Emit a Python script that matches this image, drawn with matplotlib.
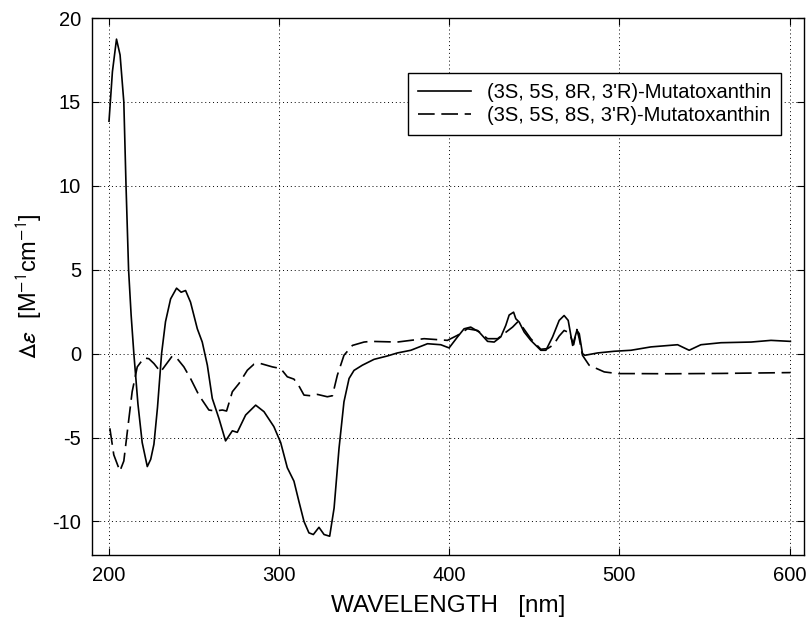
import numpy as np
import matplotlib.pyplot as plt

plt.rcParams['font.family'] = ['Liberation Sans', 'DejaVu Sans']
plt.rcParams['mathtext.fontset'] = 'stixsans'
plt.rcParams['axes.unicode_minus'] = False

# (3S,5S,8R,3'R) - solid curve
wl_r = [200, 202, 204.4, 206.5, 208.7, 210, 211.5, 213, 214.6, 217, 219.5, 222.5, 224.5,
        226.4, 228.5, 230.9, 233.2, 236.2, 239.7, 242.4, 245, 247.9, 251.9, 254.8, 257.8,
        260.7, 264.6, 268.5, 272.5, 275.4, 280.3, 286.2, 291.1, 296.9, 300.9, 304.8, 308.7,
        311.6, 314.6, 317.5, 320.1, 323.4, 326.4, 329.7, 332.3, 335.2, 338.1, 341.1, 344,
        348.9, 355.8, 363.6, 369.5, 377.4, 387.2, 395, 399.9, 404.8, 408.7, 412.6, 417.5,
        422.5, 426.4, 430.3, 433.2, 435.2, 437.8, 439.1, 441.1, 444, 447.9, 453.8, 456.8,
        460.7, 464.6, 467.5, 469.9, 472.5, 475, 476.4, 478.3, 479.7, 487.2, 496.9, 506.8,
        518.5, 534.2, 541, 547.9, 559.7, 577.4, 589.1, 600.5]
de_r = [13.85, 16.8, 18.74, 17.8, 15.0, 10.0, 5.0, 2.3, 0.0, -3.0, -5.3, -6.73, -6.3,
        -5.4, -3.2, 0.0, 1.9, 3.26, 3.9, 3.66, 3.76, 3.07, 1.48, 0.69, -0.69,
        -2.67, -3.86, -5.2, -4.6, -4.69, -3.66, -3.07, -3.46, -4.35, -5.3, -6.8, -7.6,
        -8.8, -10.0, -10.68, -10.78, -10.35, -10.78, -10.88, -9.2, -5.64, -2.87, -1.48, -1.0,
        -0.69, -0.34, -0.14, 0.04, 0.2, 0.59, 0.53, 0.34, 0.99, 1.48, 1.58, 1.29,
        0.73, 0.69, 1.0, 1.68, 2.3, 2.47, 2.08, 1.88, 1.29, 0.79, 0.2, 0.2,
        0.99, 1.98, 2.27, 1.98, 0.49, 1.38, 1.19, 0.0, -0.1, 0.04, 0.14, 0.2,
        0.4, 0.53, 0.2, 0.53, 0.65, 0.69, 0.79, 0.73]

# (3S,5S,8S,3'R) - dashed curve
wl_s = [200.5, 202.8, 206.4, 208.7, 211, 213.6, 216.6, 220.5, 223.4, 226.4, 230.3, 233.2,
        237.2, 240.1, 244, 247.9, 252.8, 258.7, 262.6, 266.6, 269.1, 272.5, 276.4, 281.3,
        285.2, 289.1, 296, 300.9, 304.8, 308.7, 311.6, 314.6, 318.5, 322.5, 328.3, 331.3,
        334.2, 338.1, 343.1, 349.9, 353.8, 369.5, 385.2, 398.9, 404.8, 410.7, 416.6, 422.5,
        428.4, 432.2, 437.2, 440.1, 443.1, 447.9, 453.8, 457.8, 461.3, 464.6, 467.5, 470.5,
        473.1, 475, 476.4, 478.3, 482.2, 491.1, 498.9, 508.7, 530, 560, 600.5]
de_s = [-4.45, -6.03, -7.0, -6.4, -4.45, -2.27, -0.79, -0.26, -0.3, -0.59, -1.09, -0.69,
        -0.14, -0.3, -0.79, -1.48, -2.47, -3.36, -3.42, -3.36, -3.42, -2.27, -1.78, -0.99,
        -0.63, -0.59, -0.79, -0.89, -1.38, -1.52, -1.92, -2.47, -2.51, -2.43, -2.57, -2.51,
        -1.29, -0.1, 0.49, 0.69, 0.73, 0.69, 0.89, 0.79, 1.09, 1.48, 1.38, 0.89,
        0.89, 1.19, 1.58, 1.88, 1.58, 0.89, 0.26, 0.3, 0.53, 1.05, 1.38, 1.25,
        0.53, 1.44, 0.89, -0.1, -0.69, -1.09, -1.19, -1.19, -1.2, -1.18, -1.13]

labels = ["(3S, 5S, 8R, 3'R)-Mutatoxanthin", "(3S, 5S, 8S, 3'R)-Mutatoxanthin"]

fig = plt.figure(figsize=(8.08, 6.25), dpi=100)
ax = fig.add_axes([92/808, 1 - 555/625, 712/808, 537/625])

ax.plot(wl_r, de_r, color='black', lw=1.2, label=labels[0])
ax.plot(wl_s, de_s, color='black', lw=1.2, dashes=(10, 4), label=labels[1])

ax.set_xlim(190, 608.5)
ax.set_ylim(-12, 20)
ax.set_xticks([200, 300, 400, 500, 600])
ax.set_yticks([-10, -5, 0, 5, 10, 15, 20])
ax.grid(True, color='black', lw=0.7, linestyle=(0, (1, 3)))
ax.tick_params(direction='in', length=5, width=0.8, top=True, right=True,
               labelsize=14.5, pad=8)
for s in ax.spines.values():
    s.set_linewidth(1.0)

ax.set_xlabel('WAVELENGTH   [nm]', fontsize=17.5, labelpad=7)
ax.set_ylabel(r'$\Delta\varepsilon$  [M$^{\mathsf{-1}}$cm$^{\mathsf{-1}}$]', fontsize=17, labelpad=6)

leg = ax.legend(loc='upper right', bbox_to_anchor=(0.968, 0.898), borderaxespad=0,
                fontsize=14.5, fancybox=False, edgecolor='black', framealpha=1,
                handlelength=2.6, borderpad=0.5, labelspacing=0.2)
leg.get_frame().set_linewidth(1.0)

fig.savefig('out.png', dpi=100)
